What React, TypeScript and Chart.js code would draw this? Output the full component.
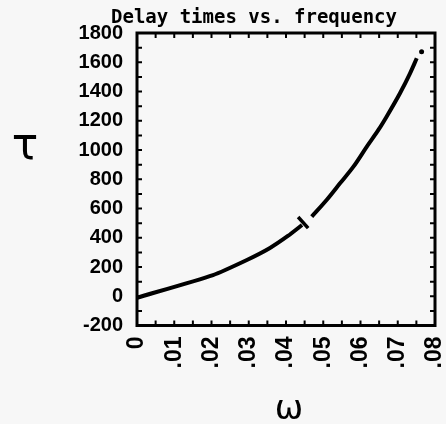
import React, { useEffect, useRef } from "react";
import { Chart, registerables } from "chart.js";

Chart.register(...registerables);

// ---- text ----
const TITLE = "Delay times vs. frequency";
const X_TITLE = "ω";
const Y_TITLE = "τ";

// ---- axes ----
const X_MIN = 0;
const X_MAX = 0.08;
const X_STEP = 0.01;
const X_MINOR = 0.005;
const Y_MIN = -200;
const Y_MAX = 1800;
const Y_STEP = 200;
const Y_MINOR = 100;

// ---- data ----
const lowOmega = [0, 0.0204, 0.0295, 0.0357, 0.0405, 0.0443];
const lowTau = [-10, 145, 248, 330, 412, 487];

const highOmega = [0.0469, 0.0509, 0.0545, 0.0581, 0.0617, 0.0648, 0.067, 0.0706, 0.0733, 0.0751];
const highTau = [544, 658, 772, 886, 1023, 1137, 1228, 1388, 1524, 1627];

const breakOmega = [0.0446];
const breakTau = [504];

const endOmega = [0.0764];
const endTau = [1672];

const toXY = (xs: number[], ys: number[]) => xs.map((x, i) => ({ x, y: ys[i] }));

const framePlugin = {
  id: "frame",
  beforeDraw(chart: any) {
    const { ctx, width, height } = chart;
    ctx.save();
    ctx.fillStyle = "#f7f7f7";
    ctx.fillRect(0, 0, width, height);
    ctx.restore();
  },
  afterDraw(chart: any) {
    const { ctx, chartArea: a, scales } = chart;
    const xs = scales.x;
    const ys = scales.y;
    ctx.save();
    ctx.strokeStyle = "#000";
    ctx.lineWidth = 3;
    ctx.strokeRect(a.left, a.top, a.right - a.left, a.bottom - a.top);
    ctx.lineWidth = 2;
    ctx.beginPath();
    const tl = 5;
    for (let k = 1; X_MIN + k * X_MINOR < X_MAX - 1e-9; k++) {
      const px = xs.getPixelForValue(X_MIN + k * X_MINOR);
      ctx.moveTo(px, a.bottom);
      ctx.lineTo(px, a.bottom - tl);
      ctx.moveTo(px, a.top);
      ctx.lineTo(px, a.top + tl);
    }
    for (let k = 1; Y_MIN + k * Y_MINOR < Y_MAX - 1e-9; k++) {
      const py = ys.getPixelForValue(Y_MIN + k * Y_MINOR);
      ctx.moveTo(a.left, py);
      ctx.lineTo(a.left + tl, py);
      ctx.moveTo(a.right, py);
      ctx.lineTo(a.right - tl, py);
    }
    ctx.stroke();

    ctx.fillStyle = "#000";
    ctx.textAlign = "center";
    ctx.textBaseline = "middle";
    ctx.font = "bold 19px 'DejaVu Sans Mono'";
    ctx.fillText(TITLE, 254, 18);
    ctx.font = "44px 'DejaVu Sans'";
    ctx.fillText(Y_TITLE, 25, 148);
    ctx.font = "34px 'DejaVu Sans'";
    ctx.fillText(X_TITLE, 289, 410);
    ctx.restore();
  },
};

export default function App() {
  const ref = useRef<HTMLCanvasElement | null>(null);

  useEffect(() => {
    if (!ref.current) return;
    const chart = new Chart(ref.current, {
      type: "line",
      data: {
        datasets: [
          {
            data: toXY(lowOmega, lowTau),
            borderColor: "#000",
            borderWidth: 4,
            pointRadius: 0,
            tension: 0.2,
          },
          {
            data: toXY(highOmega, highTau),
            borderColor: "#000",
            borderWidth: 4,
            pointRadius: 0,
            cubicInterpolationMode: "monotone",
          },
          {
            data: toXY(breakOmega, breakTau),
            showLine: false,
            pointStyle: "line",
            rotation: 48,
            pointRadius: 7.5,
            borderColor: "#000",
            borderWidth: 3.5,
          },
          {
            data: toXY(endOmega, endTau),
            showLine: false,
            pointRadius: 2.5,
            backgroundColor: "#000",
            borderColor: "#000",
            borderWidth: 0,
          },
        ],
      } as any,
      options: {
        animation: false,
        responsive: false,
        events: [],
        layout: { padding: { top: 33, right: 11, bottom: 0, left: 0 } },
        plugins: {
          legend: { display: false },
          tooltip: { enabled: false },
          title: { display: false },
        },
        scales: {
          x: {
            type: "linear",
            min: X_MIN,
            max: X_MAX,
            grid: { display: false, drawTicks: false },
            border: { display: false },
            ticks: {
              stepSize: X_STEP,
              autoSkip: false,
              maxRotation: 90,
              minRotation: 90,
              padding: 11,
              color: "#000",
              font: { family: "'Liberation Sans'", weight: "bold", size: 23 },
              callback: (v: any) => {
                const n = Math.round(Number(v) * 100);
                return n === 0 ? "0" : "." + String(n).padStart(2, "0");
              },
            },
            afterFit: (s: any) => {
              s.height = 98.5;
              s.paddingLeft = 0;
              s.paddingRight = 0;
            },
          },
          y: {
            type: "linear",
            min: Y_MIN,
            max: Y_MAX,
            grid: { display: false, drawTicks: false },
            border: { display: false },
            ticks: {
              stepSize: Y_STEP,
              autoSkip: false,
              padding: 14,
              color: "#000",
              font: { family: "'Liberation Sans'", weight: "bold", size: 20 },
              callback: (v: any) => String(Math.round(Number(v))),
            },
            afterFit: (s: any) => {
              s.width = 137;
              s.paddingTop = 0;
              s.paddingBottom = 0;
            },
          },
        },
      } as any,
      plugins: [framePlugin],
    });
    return () => chart.destroy();
  }, []);

  return (
    <div style={{ position: "fixed", left: 0, top: 0, width: 446, height: 424 }}>
      <canvas ref={ref} width={446} height={424} style={{ display: "block" }} />
    </div>
  );
}
